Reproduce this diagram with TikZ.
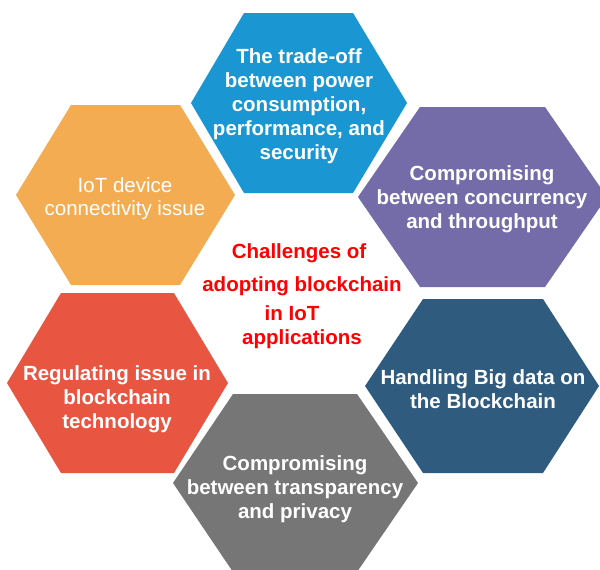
\documentclass[tikz,border=0pt]{standalone}
\usepackage{fontspec}
\setmainfont{Liberation Sans}
\definecolor{hexblue}{HTML}{1A97D3}
\definecolor{hexorange}{HTML}{F4AC52}
\definecolor{hexpurple}{HTML}{736CA8}
\definecolor{hexnavy}{HTML}{2E5B7E}
\definecolor{hexred}{HTML}{E85642}
\definecolor{hexgray}{HTML}{767676}
\definecolor{titlered}{HTML}{FF0000}
\tikzset{
  hextext/.style={text=white, font=\fontsize{20.5}{24}\selectfont\bfseries, align=center, inner sep=0pt},
  hexplain/.style={text=white, font=\fontsize{20.5}{23.5}\selectfont, align=center, inner sep=0pt},
  centertext/.style={text=titlered, font=\fontsize{20.5}{23.5}\selectfont\bfseries, inner sep=0pt}
}
\begin{document}
\begin{tikzpicture}[x=1pt,y=-1pt]
\useasboundingbox (0,0) rectangle (600,570);
\clip (0,0) rectangle (600,570);
\fill[white] (0,0) rectangle (600,570);
% hexagons
\fill[hexblue]   (244,13)--(353,13)--(407,103)--(353,193)--(244,193)--(191,103)--cycle;
\fill[hexorange] (71,105)--(180,105)--(235,195)--(180,285)--(71,285)--(16,195)--cycle;
\fill[hexpurple] (420,107)--(545,107)--(607,197)--(545,287)--(420,287)--(358,197)--cycle;
\fill[hexnavy]   (423,299)--(543,299)--(599,386)--(543,473)--(423,473)--(365,386)--cycle;
\fill[hexred]    (61,293)--(174,293)--(228,383)--(174,473)--(61,473)--(7,383)--cycle;
\fill[hexgray]   (233,394)--(357,394)--(418,483)--(357,572)--(233,572)--(173,483)--cycle;
% texts
\node[hextext] (tblue) at (299,106) {The trade-off\\between power\\consumption,\\performance, and\\security};
\node[hexplain] (torange) at (125,198.5) {IoT device\\connectivity issue};
\node[hextext] (tpurple) at (482,199) {Compromising\\between concurrency\\and throughput};
\node[hextext] (tnavy) at (483,389) {Handling Big data on\\the Blockchain};
\node[hextext] (tred) at (117,399) {Regulating issue in\\blockchain\\technology};
\node[hextext] (tgray) at (295,489) {Compromising\\between transparency\\and privacy};
% center title
\node[centertext] (c1) at (299,253) {Challenges of};
\node[centertext] (c2) at (302,286) {adopting blockchain};
\node[centertext] (c3) at (292,313) {in IoT};
\node[centertext] (c4) at (302,339) {applications};
\end{tikzpicture}
\end{document}
